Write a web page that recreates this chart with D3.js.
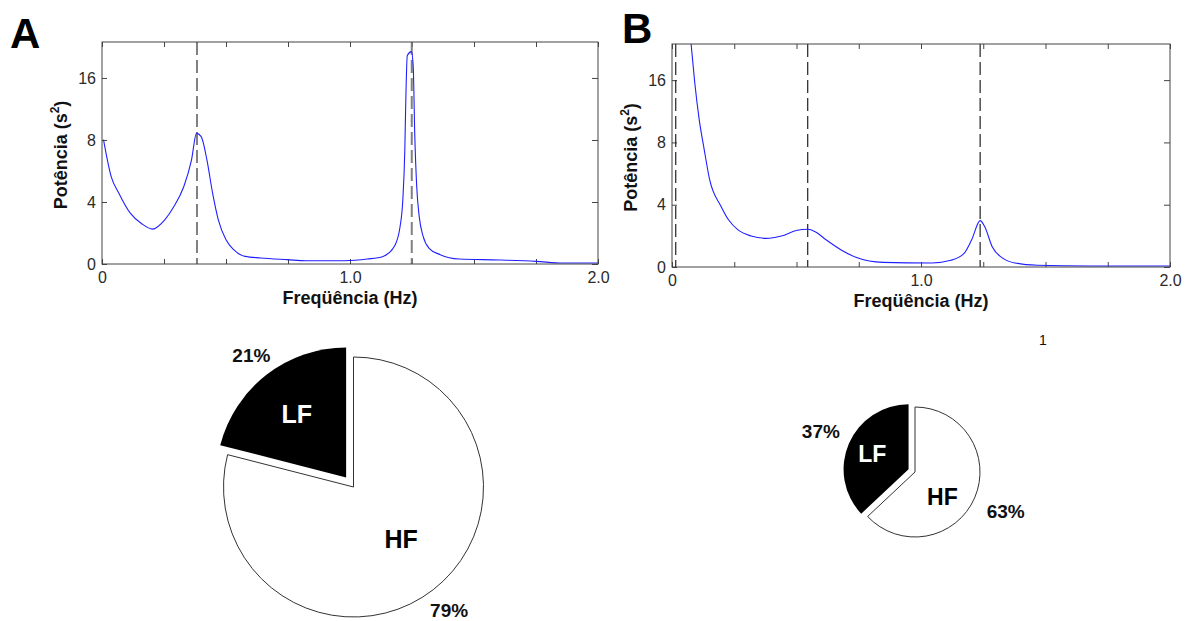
<!DOCTYPE html>
<html>
<head>
<meta charset="utf-8">
<script src="https://cdn.jsdelivr.net/npm/d3@7"></script>
<style>
  body { margin: 0; background: #fff; }
  svg { display: block; }
</style>
</head>
<body>
<div id="chart"></div>
<script>
// espectros de potência
const freqA = [0.006, 0.037, 0.068, 0.114, 0.160, 0.204, 0.253, 0.290, 0.330, 0.361, 0.381, 0.400,
  0.423, 0.446, 0.469, 0.500, 0.531, 0.577, 0.639, 0.747, 0.824, 0.978, 1.070, 1.133, 1.179,
  1.202, 1.213, 1.221, 1.225, 1.231, 1.248, 1.255, 1.261, 1.269, 1.279, 1.295, 1.318, 1.364,
  1.440, 1.600, 1.750, 1.858, 2.000];
const powerA = [8.05, 5.64, 4.57, 3.28, 2.60, 2.25, 2.85, 3.71, 5.00, 6.72, 8.85, 8.43,
  6.72, 4.57, 2.85, 1.57, 0.92, 0.49, 0.39, 0.28, 0.21, 0.21, 0.32, 0.49, 1.14,
  2.42, 4.14, 7.36, 13.1, 18.9, 19.4, 17.4, 8.85, 5.00, 3.07, 1.78, 1.03, 0.60,
  0.32, 0.26, 0.17, 0.06, 0.06];

const freqB = [0.070, 0.076, 0.091, 0.109, 0.129, 0.151, 0.197, 0.227, 0.265, 0.318, 0.378,
  0.439, 0.499, 0.545, 0.575, 0.620, 0.681, 0.741, 0.847, 1.044, 1.120, 1.172, 1.203,
  1.2375, 1.256, 1.286, 1.331, 1.377, 1.467, 1.679, 2.000];
const powerB = [23, 20.9, 15.8, 11.0, 7.57, 5.62, 3.89, 3.03, 2.38, 1.99, 1.84,
  1.99, 2.34, 2.42, 2.27, 1.73, 1.08, 0.61, 0.30, 0.26, 0.43, 0.86, 1.73,
  2.98, 2.59, 1.30, 0.54, 0.26, 0.11, 0.06, 0.06];

// linhas tracejadas (Hz)
const dashedA = [0.383, 1.249];
const dashedB = [0.015, 0.545, 1.2375];

// eixos
const yTickValues = [0, 4, 8, 16];
const xTickValues = [0, 0.25, 0.5, 0.75, 1.0, 1.25, 1.5, 1.75, 2.0];
const xLabelValues = [0, 1, 2];
const xLabelTexts = ["0", "1.0", "2.0"];

// pizzas
const bandLabels = ["HF", "LF"];
const pieA = [79, 21];
const pieB = [63, 37];

const W = 1191, H = 621;
const FONT = "'Liberation Sans', Arial, sans-serif";

const svg = d3.select("#chart").append("svg")
  .attr("width", W).attr("height", H)
  .attr("font-family", FONT);

function drawSpectrum(o) {
  const g = svg.append("g").attr("transform", `translate(${o.left},${o.top})`);
  const x = d3.scaleLinear().domain([0, 2]).range([0, o.width]);
  // eixo y com marcas igualmente espaçadas (0, 4, 8, 16)
  const s = o.height / 3.58;
  const y = d3.scaleLinear().domain([0, 8, 16]).range([o.height, o.height - 2 * s, o.height - 3 * s]);

  const clipId = "clip" + o.id;
  g.append("clipPath").attr("id", clipId)
    .append("rect").attr("width", o.width).attr("height", o.height);

  const tickColor = "#444";

  const xb = g.append("g").attr("transform", `translate(0,${o.height})`)
    .call(d3.axisBottom(x).tickValues(xTickValues).tickSizeInner(-5).tickSizeOuter(0).tickPadding(8)
      .tickFormat(d => {
        const i = xLabelValues.findIndex(v => Math.abs(v - d) < 1e-9);
        return i >= 0 ? xLabelTexts[i] : "";
      }));
  const xt = g.append("g")
    .call(d3.axisTop(x).tickValues(xTickValues).tickSizeInner(-5).tickSizeOuter(0).tickFormat(""));
  const yl = g.append("g")
    .call(d3.axisLeft(y).tickValues(yTickValues).tickSizeInner(-5).tickSizeOuter(0).tickPadding(6)
      .tickFormat(d3.format("d")));
  const yr = g.append("g").attr("transform", `translate(${o.width},0)`)
    .call(d3.axisRight(y).tickValues(yTickValues).tickSizeInner(-6).tickSizeOuter(0).tickFormat(""));

  [xb, xt, yl, yr].forEach(a => {
    a.select(".domain").remove();
    a.selectAll(".tick line").attr("stroke", tickColor);
    a.selectAll(".tick text").attr("fill", "#2a2a2a").attr("font-size", 16).attr("font-family", FONT);
  });

  // linhas tracejadas
  g.selectAll("line.dash").data(o.dashed).join("line")
    .attr("class", "dash")
    .attr("x1", d => x(d)).attr("x2", d => x(d))
    .attr("y1", 0).attr("y2", o.height)
    .attr("stroke", o.dashColor).attr("stroke-width", o.dashWidth)
    .attr("stroke-dasharray", "13,5");

  const line = d3.line()
    .x((d, i) => x(o.freq[i]))
    .y(d => y(d))
    .curve(d3.curveMonotoneX);

  g.append("path")
    .datum(o.power)
    .attr("clip-path", `url(#${clipId})`)
    .attr("fill", "none")
    .attr("stroke", "#2020ff")
    .attr("stroke-width", 1.1)
    .attr("d", line);

  // moldura
  g.append("rect")
    .attr("width", o.width).attr("height", o.height)
    .attr("fill", "none").attr("stroke", tickColor).attr("stroke-width", 1);

  // títulos
  g.append("text")
    .attr("x", o.width / 2).attr("y", o.height + 34).attr("dy", "0.35em")
    .attr("text-anchor", "middle").attr("font-weight", "bold").attr("font-size", 18)
    .attr("fill", "#111")
    .text("Freqüência (Hz)");

  const yt = g.append("text")
    .attr("transform", `translate(${o.yTitleX},${o.height / 2 + 2}) rotate(-90)`)
    .attr("text-anchor", "middle").attr("dy", "0.35em")
    .attr("font-weight", "bold").attr("font-size", 18).attr("fill", "#111");
  yt.append("tspan").text("Potência (s");
  yt.append("tspan").attr("dy", -8).attr("font-size", 12).text("2");
  yt.append("tspan").attr("dy", 8).text(")");

  svg.append("text")
    .attr("x", o.letterX).attr("y", o.letterY)
    .attr("font-weight", "bold").attr("font-size", 42).attr("fill", "#000")
    .text(o.id);
}

drawSpectrum({ id: "A", left: 102, top: 42, width: 496, height: 222, freq: freqA, power: powerA,
  dashed: dashedA, dashColor: "#808080", dashWidth: 2, yTitleX: -41, letterX: 10, letterY: 48 });
drawSpectrum({ id: "B", left: 672, top: 44, width: 498, height: 223, freq: freqB, power: powerB,
  dashed: dashedB, dashColor: "#222", dashWidth: 1.2, yTitleX: -41, letterX: 622, letterY: 43 });

function drawPie(o) {
  const g = svg.append("g").attr("transform", `translate(${o.cx},${o.cy})`);
  const pie = d3.pie().sort(null).value(d => d);
  const arcs = pie(o.values);
  const arc = d3.arc().innerRadius(0).outerRadius(o.r);
  const pct = d3.sum(o.values);

  const dir = a => [Math.sin(a), -Math.cos(a)];

  arcs.forEach((a, i) => {
    const isLF = bandLabels[i] === "LF";
    const mid = (a.startAngle + a.endAngle) / 2;
    const [ux, uy] = dir(mid);
    const off = isLF ? o.explode : 0;
    const sg = g.append("g").attr("transform", `translate(${ux * off},${uy * off})`);
    sg.append("path")
      .attr("d", arc(a))
      .attr("fill", isLF ? "#000" : "#fff")
      .attr("stroke", isLF ? "#000" : "#333")
      .attr("stroke-width", isLF ? 0 : 1);

    const inAng = mid + (o.inShift[i] || 0) * Math.PI / 180;
    const [ix, iy] = dir(inAng);
    sg.append("text")
      .attr("x", ix * o.r * o.inR[i]).attr("y", iy * o.r * o.inR[i]).attr("dy", "0.36em")
      .attr("text-anchor", "middle").attr("font-weight", "bold").attr("font-size", o.labelSize)
      .attr("fill", isLF ? "#fff" : "#000")
      .text(bandLabels[i]);
    sg.append("text")
      .attr("x", ux * o.r * o.outR[i]).attr("y", uy * o.r * o.outR[i]).attr("dy", "0.36em")
      .attr("text-anchor", "middle").attr("font-weight", "bold").attr("font-size", 19)
      .attr("fill", "#111")
      .text(Math.round(o.values[i] / pct * 100) + "%");
  });
}

drawPie({ cx: 353.5, cy: 487, r: 130, values: pieA, explode: 12,
  inR: [0.54, 0.62], inShift: [-5, 0], outR: [1.2, 1.19], labelSize: 25 });
drawPie({ cx: 915, cy: 472, r: 65, values: pieB, explode: 7,
  inR: [0.57, 0.61], inShift: [19, 0], outR: [1.52, 1.47], labelSize: 23 });

svg.append("text")
  .attr("x", 1043).attr("y", 340).attr("dy", "0.35em")
  .attr("text-anchor", "middle").attr("font-size", 14).attr("fill", "#111")
  .text("1");
</script>
</body>
</html>
